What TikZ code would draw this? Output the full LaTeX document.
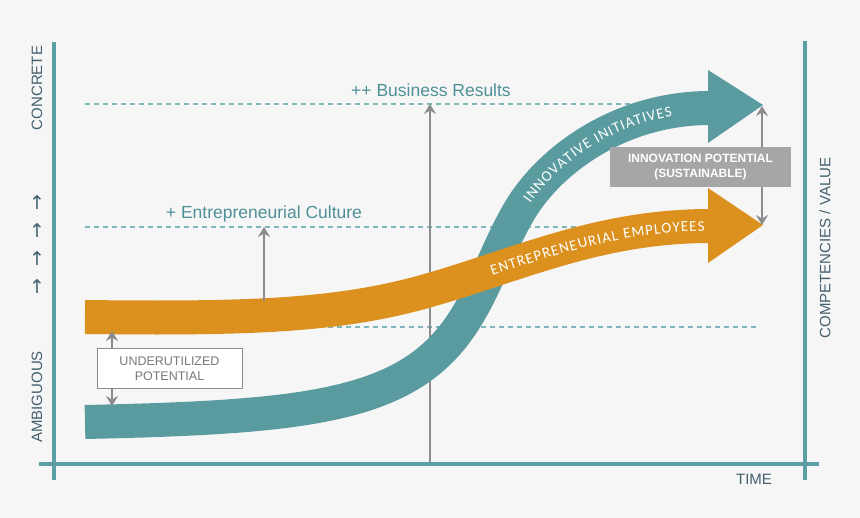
\documentclass[tikz,border=0pt]{standalone}
\usepackage{fontspec}
\setmainfont{Liberation Sans}
\newfontfamily\bandfont{Carlito}
\newfontfamily\arrowfont{DejaVu Sans}
\usetikzlibrary{arrows.meta,decorations.text}

\definecolor{bgcol}{HTML}{F6F6F6}
\definecolor{axiscol}{HTML}{5B9EA3}
\definecolor{tealband}{HTML}{5A9BA0}
\definecolor{orangeband}{HTML}{DC901E}
\definecolor{labelcol}{HTML}{43606E}
\definecolor{headcol}{HTML}{4F9097}
\definecolor{dashcol}{HTML}{7DB7BB}
\definecolor{arrowgray}{HTML}{8C8C8C}
\definecolor{boxgray}{HTML}{A6A6A6}

\newcommand\bandtext{\bandfont\fontsize{15}{15}\selectfont\color{white}\kern1.1pt}

\tikzset{
  axis/.style={draw=axiscol, line width=3.5pt},
  level/.style={draw=dashcol, line width=1.1pt, dash pattern=on 5pt off 4pt},
  grayarrow/.style={draw=arrowgray, line width=2.4pt, -{Stealth[length=10pt,width=12pt,inset=3.5pt]}},
  graydouble/.style={draw=arrowgray, line width=2.4pt, {Stealth[length=10pt,width=12pt,inset=3.5pt]}-{Stealth[length=10pt,width=12pt,inset=3.5pt]}},
  axislabel/.style={text=labelcol, font=\fontsize{15}{17}\selectfont},
  uparrow/.style={text=labelcol, font=\arrowfont\fontsize{19}{21}\selectfont},
  levellabel/.style={text=headcol, anchor=base, font=\fontsize{17.5}{20}\selectfont},
  band/.style={line width=34pt},
  underbox/.style={draw=arrowgray, fill=white, line width=1pt, minimum width=145pt, minimum height=40pt,
    inner sep=0pt, align=center, text=arrowgray!85!black, font=\fontsize{12.5}{15}\selectfont},
  potentialbox/.style={fill=boxgray, minimum width=181pt, minimum height=40pt,
    inner sep=0pt, align=center, text=white, font=\bfseries\fontsize{12}{15}\selectfont}
}

\begin{document}
\begin{tikzpicture}[x=1pt,y=-1pt]
  \fill[bgcol] (0,0) rectangle (860,518);
  \useasboundingbox (0,0) rectangle (860,518);

  \foreach \y in {104,227,327} {
    \draw[level] (85,\y) -- (756,\y);
  }

  \draw[axis] (54,42) -- (54,480);
  \draw[axis] (39,464) -- (819,464);
  \draw[axis] (805,41) -- (805,480);

  \coordinate (xbase) at (430,462);
  \coordinate (results) at (430,104);
  \draw[grayarrow] (xbase) -- (results);

  \draw[band, draw=tealband, postaction={decorate, decoration={text along path, raise=-5pt,
      text align={left indent=543pt}, text={|\bandtext|INNOVATIVE INITIATIVES}}}]
    (85,422) .. controls (270,418) and (370,410) .. (430,360)
    .. controls (478,320) and (490,260) .. (520,210)
    .. controls (550,160) and (620,108) .. (710,108);
  \fill[tealband] (708,70) -- (763,105) -- (708,143) -- cycle;

  \draw[band, draw=orangeband, postaction={decorate, decoration={text along path, raise=-5pt,
      text align={left indent=410pt}, text={|\bandtext|ENTREPRENEURIAL EMPLOYEES}}}]
    (85,317) .. controls (250,319) and (340,316) .. (430,290)
    .. controls (520,264) and (600,226) .. (710,226);
  \fill[orangeband] (708,188) -- (763,225) -- (708,263) -- cycle;

  \coordinate (orangetop) at (264,301);
  \coordinate (culture) at (264,227);
  \draw[grayarrow] (orangetop) -- (culture);

  \coordinate (orangelow) at (112,331);
  \coordinate (teallow) at (112,406);
  \draw[graydouble] (orangelow) -- (teallow);

  \coordinate (tealtip) at (762,106);
  \coordinate (orangetip) at (762,225);
  \draw[graydouble] (tealtip) -- (orangetip);

  \node[underbox] (under) at (169.5,369) {UNDERUTILIZED\\POTENTIAL};
  \node[potentialbox] (potential) at (700.5,167) {INNOVATION POTENTIAL\\(SUSTAINABLE)};

  \node[levellabel] (business) at (431,97) {++ Business Results};
  \node[levellabel] (entre) at (264,219) {+ Entrepreneurial Culture};

  \node[axislabel, rotate=90] (concrete) at (37,88) {CONCRETE};
  \node[axislabel, rotate=90] (ambiguous) at (37,397) {AMBIGUOUS};
  \node[axislabel, rotate=90] (value) at (825,248) {COMPETENCIES / VALUE};
  \node[axislabel] (time) at (754,479) {TIME};

  \foreach \y [count=\i] in {203,231,259,287} {
    \node[uparrow] (up\i) at (37,\y) {↑};
  }
\end{tikzpicture}
\end{document}
